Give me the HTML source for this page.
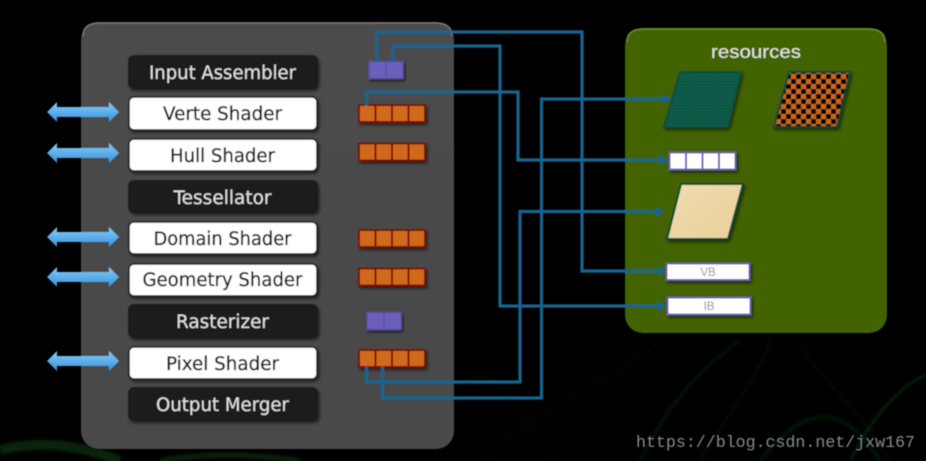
<!DOCTYPE html>
<html><head><meta charset="utf-8"><style>
html,body{margin:0;padding:0;background:#000;width:926px;height:461px;overflow:hidden}
svg{display:block}
.l{font-family:"DejaVu Sans","Liberation Sans",sans-serif;font-size:18.5px;text-anchor:middle}
.d{fill:#1e1e1e;stroke:#1e1e1e;stroke-width:.35px}
.w{fill:#e2e2e2}
</style></head><body>
<svg width="926" height="461" viewBox="0 0 926 461" xmlns="http://www.w3.org/2000/svg">
<defs>
<filter id="b" x="-5%" y="-5%" width="110%" height="110%"><feGaussianBlur stdDeviation="0.6"/></filter>
<filter id="g" x="-20%" y="-20%" width="140%" height="140%"><feGaussianBlur stdDeviation="1.6"/></filter>
<filter id="s" x="-10%" y="-20%" width="120%" height="150%"><feDropShadow dx="1.5" dy="2" stdDeviation="1.5" flood-color="#000" flood-opacity=".6"/></filter>
<linearGradient id="pg" x1="0" y1="0" x2="0" y2="1"><stop offset="0" stop-color="#4c4c4c"/><stop offset="1" stop-color="#484848"/></linearGradient>
<linearGradient id="ar" x1="0" y1="0" x2="0" y2="1"><stop offset="0" stop-color="#8ccaf5"/><stop offset=".5" stop-color="#5cb0ec"/><stop offset="1" stop-color="#3f8fd0"/></linearGradient>
<linearGradient id="bg" x1="0" y1="0" x2="1" y2="1"><stop offset="0" stop-color="#f0dcae"/><stop offset="1" stop-color="#e9d09a"/></linearGradient>
<pattern id="dot" width="3" height="3" patternUnits="userSpaceOnUse"><rect width="3" height="3" fill="#0f5f4c"/><rect width="1.4" height="1.4" fill="#094436"/></pattern>
<pattern id="chk" width="10" height="10" patternUnits="userSpaceOnUse" x="786" y="74"><rect width="10" height="10" fill="#c9651a"/><rect width="5" height="5" fill="#000"/><rect x="5" y="5" width="5" height="5" fill="#000"/></pattern>
<g id="arrow"><path d="M47 0 L57 -10 L57 -5 L109 -5 L109 -10 L119 0 L109 10 L109 5 L57 5 L57 10 Z" fill="url(#ar)"/></g>
<g id="org" filter="url(#s)"><rect x="0" y="0" width="66" height="17" fill="#d0691a" stroke="#7a0f05" stroke-width="2"/><path d="M16.500 0V17M33 0V17M49.500 0V17" stroke="#7a0f05" stroke-width="2"/></g>
<g id="pur" filter="url(#s)"><rect x="0" y="0" width="34" height="17" fill="#6b60bb" stroke="#5b50a3" stroke-width="1.500"/><path d="M17 0V17" stroke="#5b50a3" stroke-width="1.500"/></g>
</defs>
<rect width="926" height="461" fill="#000"/>
<g fill="none" stroke="#0d3f12" stroke-width="1" filter="url(#g)">
<path d="M0 450 C40 440 80 445 120 461" stroke="#123f15" stroke-width="10" opacity=".55"/>
<path d="M160 461 C200 454 240 452 300 461" stroke="#0b3210" stroke-width="6" opacity=".6"/>
<path d="M480 461 C540 400 620 380 660 340" opacity=".3"/>
<path d="M640 461 C670 400 700 370 740 340" stroke-width="3" opacity=".4"/>
<path d="M700 461 C730 410 770 360 770 335" stroke-width="2" opacity=".35"/>
<path d="M760 461 C800 410 840 395 880 461" stroke-width="3" opacity=".45"/>
<path d="M850 461 C870 420 900 385 926 375" stroke-width="3" opacity=".5"/>
<path d="M800 345 C830 390 860 410 890 461" stroke-width="1.500" opacity=".35"/>
<path d="M460 380 C520 360 520 440 560 461" opacity=".25"/>
</g>
<g filter="url(#b)">
<rect x="81" y="22" width="373" height="427" rx="18" fill="url(#pg)"/>
<path d="M83 36 Q83 23 99 23 H436 Q452 23 452 36" fill="none" stroke="#777" stroke-width="1.500"/>
<rect x="625" y="28" width="262" height="305" rx="18" fill="#436400"/>
<path d="M627 42 Q627 29 643 29 H869 Q885 29 885 42" fill="none" stroke="#6f9030" stroke-width="1.500"/>

<g filter="url(#s)" fill="#1a1a1a">
<rect x="128" y="55" width="190" height="34" rx="6"/>
<rect x="128" y="180" width="190" height="33" rx="6"/>
<rect x="128" y="304" width="190" height="34" rx="6"/>
<rect x="128" y="387" width="190" height="34" rx="6"/>
</g>
<g filter="url(#s)" fill="#fff" stroke="#1c1c1c" stroke-width="1.500">
<rect x="129" y="97" width="188" height="33" rx="5"/>
<rect x="129" y="139" width="188" height="32" rx="5"/>
<rect x="129" y="222" width="188" height="32" rx="5"/>
<rect x="129" y="264" width="188" height="32" rx="5"/>
<rect x="129" y="347" width="188" height="32" rx="5"/>
</g>
<text class="l w" x="222.500" y="79" textLength="147" lengthAdjust="spacingAndGlyphs">Input Assembler</text>
<text class="l d" x="222.500" y="120" textLength="119" lengthAdjust="spacingAndGlyphs">Verte Shader</text>
<text class="l d" x="222.500" y="162" textLength="105" lengthAdjust="spacingAndGlyphs">Hull Shader</text>
<text class="l w" x="222.500" y="204" textLength="98" lengthAdjust="spacingAndGlyphs">Tessellator</text>
<text class="l d" x="222.500" y="245" textLength="138" lengthAdjust="spacingAndGlyphs">Domain Shader</text>
<text class="l d" x="222.500" y="286" textLength="160" lengthAdjust="spacingAndGlyphs">Geometry Shader</text>
<text class="l w" x="222.500" y="328" textLength="93" lengthAdjust="spacingAndGlyphs">Rasterizer</text>
<text class="l d" x="222.500" y="370" textLength="113" lengthAdjust="spacingAndGlyphs">Pixel Shader</text>
<text class="l w" x="222.500" y="411" textLength="133" lengthAdjust="spacingAndGlyphs">Output Merger</text>

<use href="#arrow" y="112"/><use href="#arrow" y="153"/><use href="#arrow" y="237"/><use href="#arrow" y="277"/><use href="#arrow" y="361"/>

<use href="#pur" x="369" y="61.500"/>
<use href="#pur" x="367" y="312.500"/>
<use href="#org" x="359" y="105"/>
<use href="#org" x="359" y="143.500"/>
<use href="#org" x="359" y="230"/>
<use href="#org" x="359" y="268.500"/>
<use href="#org" x="359" y="350"/>

<g filter="url(#s)">
<polygon points="680,72 741,72 728,127 664,127" fill="url(#dot)" stroke="#0c4f3e" stroke-width="2"/>
<polygon points="789,72 850,72 837,127 774,127" fill="url(#chk)" stroke="#0d4a3a" stroke-width="2"/>
<polygon points="681,184 743,184 728,239 667,239" fill="url(#bg)" stroke="#0d4a3a" stroke-width="2"/>
<rect x="669.500" y="152.500" width="66" height="17" fill="#fff" stroke="#6d5fb3" stroke-width="2"/>
<path d="M686 152V170M702.500 152V170M719 152V170" stroke="#6d5fb3" stroke-width="2"/>
<rect x="666.500" y="263.500" width="83" height="16.500" fill="#fff" stroke="#6d5fb3" stroke-width="2"/>
<rect x="667.500" y="297.500" width="83" height="17" fill="#fff" stroke="#6d5fb3" stroke-width="2"/>
</g>
<text x="708" y="276" font-family="Liberation Sans,sans-serif" font-size="11.500" fill="#8f8f8f" text-anchor="middle">VB</text>
<text x="709" y="310" font-family="Liberation Sans,sans-serif" font-size="11.500" fill="#8f8f8f" text-anchor="middle">IB</text>
<text x="756" y="58" font-family="Liberation Sans,sans-serif" font-size="18.500" fill="#e6e6e6" text-anchor="middle" textLength="90" lengthAdjust="spacingAndGlyphs">resources</text>

<g fill="none" stroke="#17658f" stroke-width="3.200">
<path d="M377 62V32H582V271H660"/>
<path d="M393 62V46H500V306H660"/>
<path d="M366.500 106V92H518V160H662"/>
<path d="M366.500 367V382H520V211.500H658"/>
<path d="M382.500 367V398H541.500V99H665"/>
</g>
<g fill="#17658f">
<polygon points="671,99 663,94 663,104"/>
<polygon points="668,160 660,155 660,165"/>
<polygon points="664,211.500 656,206.500 656,216.500"/>
<polygon points="666,271 658,266 658,276"/>
<polygon points="666,306 658,301 658,311"/>
</g>
<text x="636" y="447" font-family="Liberation Mono,monospace" font-size="17" fill="#8a8a8a" textLength="279" lengthAdjust="spacingAndGlyphs">https://blog.csdn.net/jxw167</text>
</g>
</svg>
</body></html>
